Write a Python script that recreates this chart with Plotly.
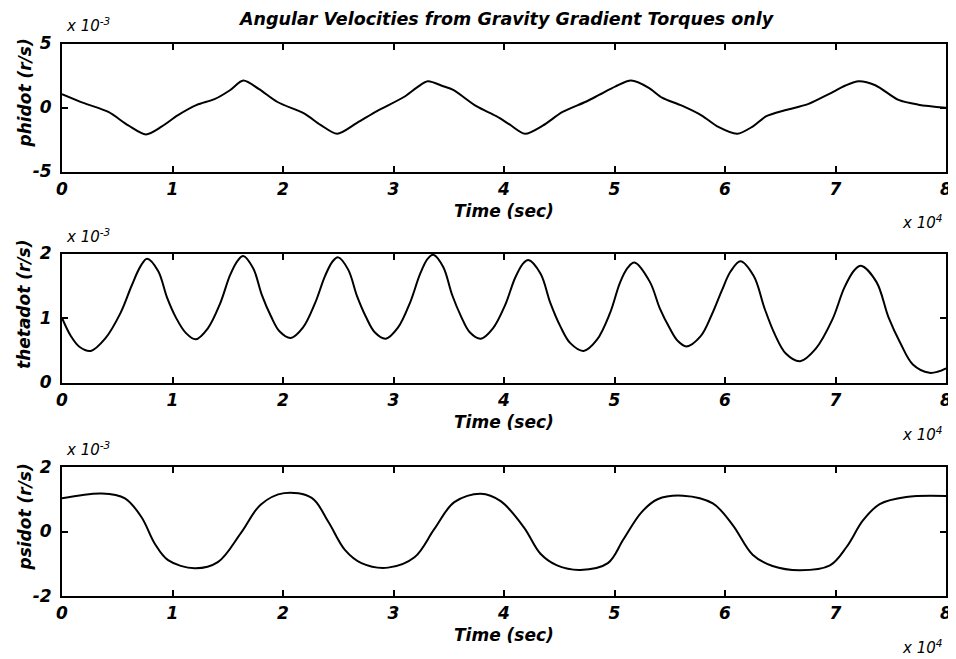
import plotly.graph_objects as go

# ---- data (time in units of 1e4 s, rates in units of 1e-3 rad/s) ----
time_phi = [0, 0.2, 0.42, 0.6, 0.76, 0.9, 1.05, 1.22, 1.38, 1.52, 1.64, 1.78, 1.95, 2.19, 2.34, 2.49,
            2.67, 2.85, 3.09, 3.21, 3.31, 3.45, 3.54, 3.75, 3.93, 4.05, 4.19, 4.35, 4.53, 4.74, 4.86,
            5.01, 5.15, 5.31, 5.43, 5.61, 5.79, 5.94, 6.11, 6.25, 6.37, 6.55, 6.75, 6.94, 7.09, 7.21,
            7.36, 7.57, 7.75, 8.0]
phidot = [1.05, 0.34, -0.35, -1.4, -2.1, -1.5, -0.6, 0.2, 0.65, 1.35, 2.1, 1.46, 0.43, -0.46, -1.36, -2.05,
          -1.2, -0.28, 0.8, 1.55, 2.05, 1.66, 1.37, 0.1, -0.68, -1.32, -2.05, -1.42, -0.35, 0.45, 0.98,
          1.65, 2.1, 1.54, 0.77, 0.14, -0.63, -1.52, -2.05, -1.49, -0.7, -0.2, 0.26, 1.05, 1.72, 2.05,
          1.74, 0.59, 0.22, -0.02]

time_theta = [0, 0.08, 0.16, 0.26, 0.39, 0.53, 0.63, 0.71, 0.77, 0.87, 0.95, 1.03, 1.12, 1.21,
              1.32, 1.43, 1.52, 1.59, 1.64, 1.73, 1.81, 1.89, 1.97, 2.07,
              2.18, 2.29, 2.38, 2.45, 2.5, 2.59, 2.67, 2.75, 2.83, 2.93,
              3.04, 3.15, 3.24, 3.31, 3.36, 3.45, 3.53, 3.61, 3.69, 3.79,
              3.9, 4.01, 4.1, 4.17, 4.22, 4.33, 4.42, 4.51, 4.6, 4.72,
              4.84, 4.96, 5.05, 5.12, 5.18, 5.32, 5.41, 5.5, 5.57, 5.65,
              5.78, 5.88, 5.97, 6.05, 6.14, 6.26, 6.36, 6.45, 6.55, 6.68,
              6.82, 6.97, 7.08, 7.17, 7.23, 7.37, 7.48, 7.59, 7.7, 7.85, 7.93, 8.0]
thetadot = [1.0, 0.72, 0.55, 0.49, 0.68, 1.08, 1.5, 1.8, 1.92, 1.73, 1.32, 1.01, 0.77, 0.67,
            0.84, 1.22, 1.66, 1.89, 1.96, 1.77, 1.35, 1.03, 0.79, 0.69,
            0.85, 1.23, 1.65, 1.88, 1.94, 1.75, 1.34, 1.02, 0.78, 0.68,
            0.85, 1.24, 1.68, 1.92, 1.98, 1.79, 1.36, 1.03, 0.78, 0.68,
            0.84, 1.2, 1.62, 1.84, 1.9, 1.69, 1.23, 0.87, 0.61, 0.49,
            0.66, 1.08, 1.55, 1.78, 1.86, 1.56, 1.15, 0.84, 0.65, 0.56,
            0.72, 1.05, 1.42, 1.72, 1.88, 1.65, 1.14, 0.75, 0.45, 0.33,
            0.52, 0.97, 1.47, 1.74, 1.81, 1.56, 1.01, 0.6, 0.28, 0.15, 0.17, 0.22]

time_psi = [0, 0.36, 0.57, 0.72, 0.84, 0.96, 1.2, 1.41, 1.62, 1.8, 2.01, 2.26, 2.41, 2.56, 2.71,
            2.95, 3.19, 3.37, 3.55, 3.79, 3.97, 4.18, 4.33, 4.48, 4.69, 4.94, 5.08, 5.24, 5.39,
            5.62, 5.89, 6.07, 6.25, 6.43, 6.68, 6.95, 7.1, 7.25, 7.4, 7.64, 8.0]
psidot = [1.03, 1.18, 1.03, 0.44, -0.38, -0.89, -1.14, -0.95, -0.04, 0.84, 1.19, 1.04, 0.3, -0.57, -0.98,
          -1.12, -0.8, 0.08, 0.91, 1.17, 0.94, 0.13, -0.69, -1.05, -1.19, -0.98, -0.25, 0.58, 1.0,
          1.11, 0.87, 0.2, -0.72, -1.07, -1.2, -1.05, -0.48, 0.35, 0.85, 1.07, 1.1]

x_tick_vals = [0, 1, 2, 3, 4, 5, 6, 7, 8]
x_tick_text = ["0", "1", "2", "3", "4", "5", "6", "7", "8"]
y_tick_vals = [[-5, 0, 5], [0, 1, 2], [-2, 0, 2]]
y_tick_text = [["-5", "0", "5"], ["0", "1", "2"], ["-2", "0", "2"]]
y_ranges = [[-5, 5], [0, 2], [-2, 2]]
y_titles = ["phidot (r/s)", "thetadot (r/s)", "psidot (r/s)"]
title_text = "Angular Velocities from Gravity Gradient Torques only"

# The page places the figure 8 px in from the top-left corner (default body margin),
# so the figure fills the rest of the 956x659 window; positions are given in window pixels.
OFF = 8
W, H = 956 - OFF, 659 - OFF
panels = [(43.5, 171.5), (253.5, 382.5), (467, 596)]   # window px (top, bottom)
xl, xr = 62, 946


def px(x):
    return (x - OFF) / W


def py(y):
    return 1 - (y - OFF) / H


FONT = "DejaVu Sans"
bold_it = dict(family=FONT, size=17, color="black", weight="bold", style="italic")
exp_font = dict(family=FONT, size=15, color="black", style="italic")

fig = go.Figure()
series = [(time_phi, phidot, 0.8), (time_theta, thetadot, 1.0), (time_psi, psidot, 1.0)]
for i, (t, v, sm) in enumerate(series):
    sfx = "" if i == 0 else str(i + 1)
    fig.add_trace(go.Scatter(x=t, y=v, xaxis="x" + sfx, yaxis="y" + sfx, mode="lines",
                             line=dict(color="black", width=2, shape="spline", smoothing=sm),
                             showlegend=False, hoverinfo="skip"))

annotations = []
layout = dict(template="none", width=W, height=H, margin=dict(l=0, r=0, t=0, b=0, pad=0),
              paper_bgcolor="white", plot_bgcolor="white", showlegend=False)

for i, (top, bot) in enumerate(panels):
    sfx = "" if i == 0 else str(i + 1)
    common = dict(showline=True, linecolor="black", linewidth=2, mirror="ticks",
                  ticks="inside", ticklen=6, tickwidth=1.5, tickcolor="black",
                  showgrid=False, zeroline=False, tickfont=bold_it, automargin=False,
                  ticklabeloverflow="allow")
    layout["xaxis" + sfx] = dict(common, domain=[px(xl), px(xr)], range=[0, 8],
                                 tickvals=x_tick_vals, ticktext=x_tick_text,
                                 anchor="y" + sfx, ticklabelstandoff=1)
    layout["yaxis" + sfx] = dict(common, domain=[py(bot), py(top)], range=y_ranges[i],
                                 tickvals=y_tick_vals[i], ticktext=y_tick_text[i],
                                 anchor="x" + sfx, ticklabelstandoff=5)
    annotations.append(dict(text=y_titles[i], xref="paper", yref="paper",
                            x=px(24), y=py((top + bot) / 2 - 14), textangle=-90,
                            showarrow=False, xanchor="center", yanchor="middle", font=bold_it))
    annotations.append(dict(text="Time (sec)", xref="paper", yref="paper",
                            x=px(504), y=py(bot + 39), showarrow=False,
                            xanchor="center", yanchor="middle", font=bold_it))
    annotations.append(dict(text="x 10<sup>4</sup>", xref="paper", yref="paper",
                            x=px(944), y=py(bot + 51), showarrow=False,
                            xanchor="right", yanchor="middle", font=exp_font))
    annotations.append(dict(text="x 10<sup>-3</sup>", xref="paper", yref="paper",
                            x=px(64), y=py(top - 18), showarrow=False,
                            xanchor="left", yanchor="middle", font=exp_font))

annotations.append(dict(text=title_text, xref="paper", yref="paper", x=px(507), y=py(19),
                        showarrow=False, xanchor="center", yanchor="middle",
                        font=dict(family=FONT, size=17.5, color="black", weight="bold", style="italic")))
layout["annotations"] = annotations
fig.update_layout(**layout)
fig.write_html("out.html")
